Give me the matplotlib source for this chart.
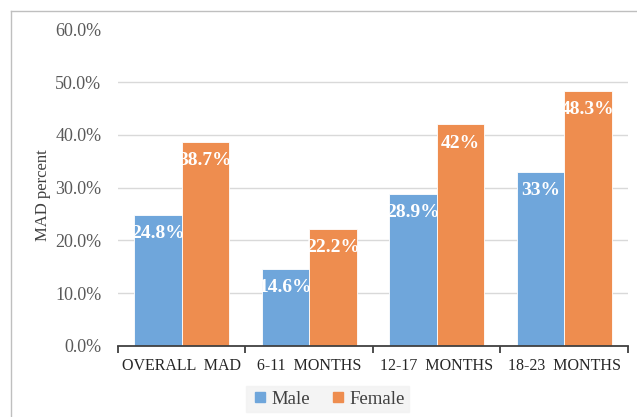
import matplotlib
matplotlib.use("Agg")
import matplotlib.pyplot as plt
from matplotlib.lines import Line2D
import numpy as np

categories = ["OVERALL  MAD", "6-11  MONTHS", "12-17  MONTHS", "18-23  MONTHS"]
male = [24.8, 14.6, 28.9, 33.0]
female = [38.7, 22.2, 42.0, 48.3]
male_labels = ["24.8%", "14.6%", "28.9%", "33%"]
female_labels = ["38.7%", "22.2%", "42%", "48.3%"]
yticks = [0, 10, 20, 30, 40, 50, 60]

plt.rcParams["font.family"] = ["Liberation Serif", "DejaVu Serif"]

fig = plt.figure(figsize=(6.37, 4.17), dpi=100)
ax = fig.add_axes([0.1852, 0.1703, 0.8006, 0.759])

blue = "#6fa6db"
orange = "#ee8d4f"
w = 0.3725
x = np.arange(len(categories))

for yv in yticks[1:-1]:
    ax.axhline(yv, color="#d9d9d9", lw=1.0, zorder=0)

ax.bar(x - w / 2, male, width=w, color=blue, edgecolor="white", linewidth=0.6, zorder=2)
ax.bar(x + w / 2, female, width=w, color=orange, edgecolor="white", linewidth=0.6, zorder=2)

for xs, vals, labs in ((x - w / 2, male, male_labels), (x + w / 2, female, female_labels)):
    for xi, v, t in zip(xs, vals, labs):
        ax.annotate(t, (xi, v), xytext=(0, -13.5), textcoords="offset points",
                    ha="center", va="center", color="white", fontsize=14,
                    fontweight="bold", zorder=3)

ax.set_xlim(-0.5, 3.5)
ax.set_ylim(0, 60)
ax.set_yticks(yticks)
ax.set_yticklabels([f"{v:.1f}%" for v in yticks])
ax.set_xticks(x)
ax.set_xticklabels(categories)
ax.set_xticks(np.arange(-0.5, 4.0, 1.0), minor=True)
ax.tick_params(axis="x", which="major", length=0, pad=9, labelsize=11.5, labelcolor="#262626")
ax.tick_params(axis="x", which="minor", length=5, width=1.3, color="#404040", direction="out")
ax.tick_params(axis="y", length=0, pad=12, labelsize=13, labelcolor="#595959")

for s in ("top", "right", "left"):
    ax.spines[s].set_visible(False)
ax.spines["bottom"].set_color("#404040")
ax.spines["bottom"].set_linewidth(1.3)

fig.text(0.0675, 0.532, "MAD percent", rotation=90, ha="center", va="center",
         fontsize=12, color="#404040")

handles = [Line2D([], [], marker="s", ls="", color=blue, markersize=6.5),
           Line2D([], [], marker="s", ls="", color=orange, markersize=6.5)]
leg = fig.legend(handles, ["Male", "Female"], loc="center", bbox_to_anchor=(0.514, 0.043),
                 ncol=2, frameon=True, fontsize=13.5, handletextpad=0.1, columnspacing=1.0,
                 handlelength=1.0, borderpad=0.25, labelcolor="#404040")
leg.get_frame().set_facecolor("#f2f2f2")
leg.get_frame().set_edgecolor("#f2f2f2")
leg.get_frame().set_boxstyle("square", pad=0)

# outer chart frame
fig.add_artist(Line2D([11 / 637, 1.0], [1 - 11 / 417, 1 - 11 / 417], color="#bfbfbf", lw=1.0))
fig.add_artist(Line2D([11 / 637, 11 / 637], [0, 1 - 11 / 417], color="#bfbfbf", lw=1.0))

fig.savefig("out.png", dpi=100)
